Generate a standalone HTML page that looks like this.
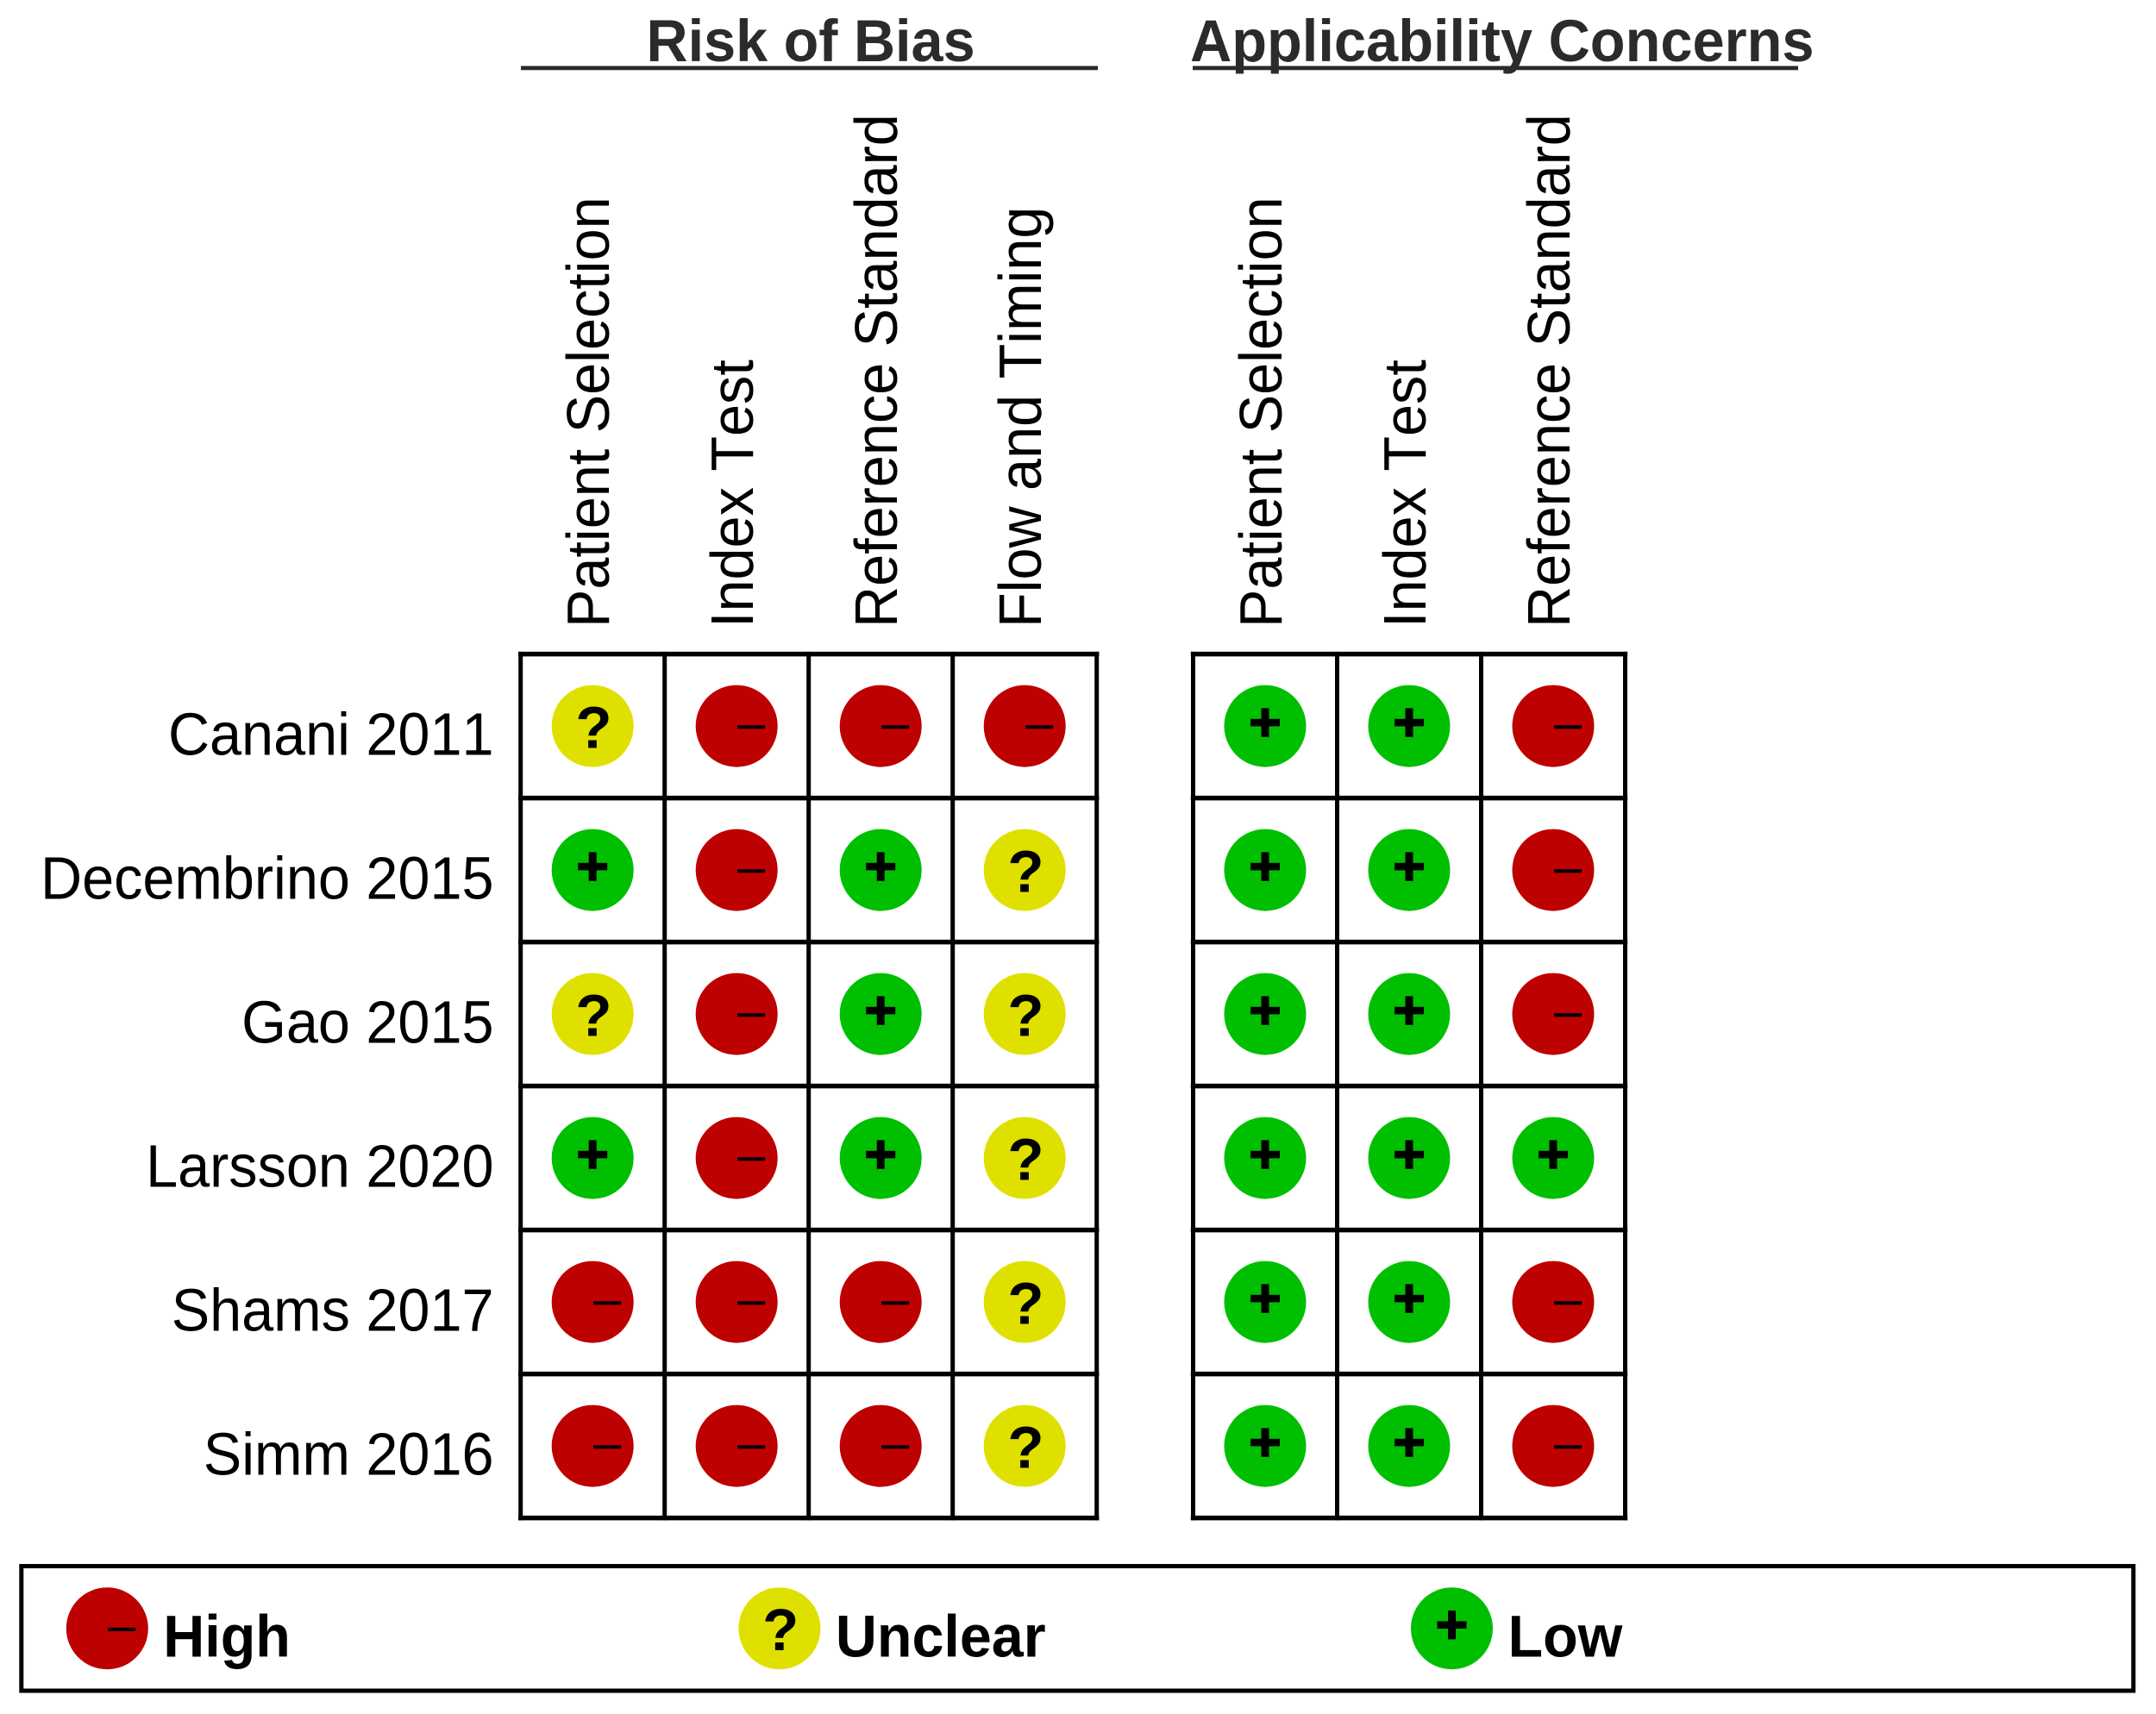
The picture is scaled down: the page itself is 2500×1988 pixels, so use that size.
<!DOCTYPE html>
<html lang="en">
<head>
<meta charset="utf-8">
<title>Risk of Bias and Applicability Concerns</title>
<style>
html,body{margin:0;padding:0;background:#fff;width:2500px;height:1988px;overflow:hidden}
svg{display:block}
text{font-family:"Liberation Sans",sans-serif}
#headers text,#labels text{font-kerning:none}
</style>
</head>
<body>
<svg id="chart" xmlns="http://www.w3.org/2000/svg" width="2500" height="1988" viewBox="0 0 2500 1988">
  <rect x="0" y="0" width="2500" height="1988" fill="#fff"/>
  <text transform="translate(749.5,71) scale(.965,1)" font-size="69" font-weight="700" fill="#2b2b2b">Risk of Bias</text>
  <rect x="604" y="76.5" width="669" height="4.8" fill="#2b2b2b"/>
  <text transform="translate(1380,71) scale(.968,1)" font-size="69" font-weight="700" fill="#2b2b2b">Applicability Concerns</text>
  <rect x="1383" y="76.5" width="702" height="4.8" fill="#2b2b2b"/>
  <g id="headers"></g>
  <g id="labels"></g>
  <g id="grids"></g>
  <g id="marks"></g>
  <rect x="24.8" y="1816.5" width="2449" height="144.5" fill="none" stroke="#000" stroke-width="5"/>
  <g id="legend"></g>
</svg>
<script>
const studies = ["Canani 2011", "Decembrino 2015", "Gao 2015", "Larsson 2020", "Shams 2017", "Simm 2016"];
const riskDomains = ["Patient Selection", "Index Test", "Reference Standard", "Flow and Timing"];
const applicabilityDomains = ["Patient Selection", "Index Test", "Reference Standard"];
const riskRatings = [
  ["unclear", "high", "high", "high"],
  ["low", "high", "low", "unclear"],
  ["unclear", "high", "low", "unclear"],
  ["low", "high", "low", "unclear"],
  ["high", "high", "high", "unclear"],
  ["high", "high", "high", "unclear"]
];
const applicabilityRatings = [
  ["low", "low", "high"],
  ["low", "low", "high"],
  ["low", "low", "high"],
  ["low", "low", "low"],
  ["low", "low", "high"],
  ["low", "low", "high"]
];
const legendLevels = ["high", "unclear", "low"];
const legendLabels = ["High", "Unclear", "Low"];

const NS = "http://www.w3.org/2000/svg";
const colors = { high: "#bd0000", unclear: "#e0e000", low: "#00bf00" };
const GRID_TOP = 758.6, ROW_H = 167, CELL_W = 167, RADIUS = 47.5;
const PANEL_LEFT = [603.7, 1383.5];

function colX(panel, i) { return PANEL_LEFT[panel] + i * CELL_W; }
function rowY(j) { return GRID_TOP + j * ROW_H; }
function make(tag, parent, attrs) {
  const el = document.createElementNS(NS, tag);
  for (const k in attrs) el.setAttribute(k, attrs[k]);
  parent.appendChild(el);
  return el;
}

function drawMark(parent, level, cx, cy) {
  const group = make("g", parent, {});
  
  
  const dot = make("circle", group, { cx: cx, cy: cy, r: RADIUS, fill: colors[level] });
  
  
  if (level === "high") {
    const minus = make("rect", group, { x: cx + 1, y: cy - 0.8, width: 32, height: 4, fill: "#000" });
    
    
  } else if (level === "low") {
    const plusH = make("rect", group, { x: cx - 17, y: cy - 8.3, width: 34, height: 8.6, fill: "#000" });
    
    
    const plusV = make("rect", group, { x: cx - 4.5, y: cy - 20.7, width: 9, height: 33.4, fill: "#000" });
    
    
  } else {
    const q = make("text", group, { x: cx + 1.3, y: cy + 25.5, "text-anchor": "middle", "font-size": 69, "font-weight": 700, fill: "#000" });
    q.textContent = "?";
    
    
  }
}

function drawGrid(panel, nCols) {
  const grids = document.getElementById("grids");
  const left = colX(panel, 0), right = colX(panel, nCols);
  for (let j = 0; j <= studies.length; j++) {
    const hLine = make("line", grids, { x1: left - 2.7, x2: right + 2.7, y1: rowY(j), y2: rowY(j), stroke: "#000", "stroke-width": 5.5 });
    
    
  }
  for (let i = 0; i <= nCols; i++) {
    const vLine = make("line", grids, { x1: colX(panel, i), x2: colX(panel, i), y1: rowY(0) - 2.7, y2: rowY(studies.length) + 2.7, stroke: "#000", "stroke-width": 5 });
    
    
  }
}

function drawHeaders(panel, domains) {
  const headers = document.getElementById("headers");
  domains.forEach(function (name, i) {
    const baseX = colX(panel, i) + 102.3;
    const t = make("text", headers, { transform: "translate(" + baseX + ",728) rotate(-90) scale(.958,1)", "font-size": 69.5, fill: "#000" });
    t.textContent = name;
    
    
  });
}

function drawRatings(panel, ratings) {
  const marks = document.getElementById("marks");
  ratings.forEach(function (row, j) {
    row.forEach(function (level, i) {
      drawMark(marks, level, colX(panel, i) + CELL_W / 2, rowY(j) + ROW_H / 2);
    });
  });
}

const labelsGroup = document.getElementById("labels");
studies.forEach(function (name, j) {
  const label = make("text", labelsGroup, { transform: "translate(572.5," + (rowY(j) + 117) + ") scale(.958,1)", "text-anchor": "end", "font-size": 69.5, fill: "#000" });
  label.textContent = name;
  
  
});

drawHeaders(0, riskDomains);
drawHeaders(1, applicabilityDomains);
drawGrid(0, riskDomains.length);
drawGrid(1, applicabilityDomains.length);
drawRatings(0, riskRatings);
drawRatings(1, applicabilityRatings);

const legendGroup = document.getElementById("legend");
const legendStep = 779.6;
legendLevels.forEach(function (level, i) {
  const cx = 124.3 + i * legendStep;
  drawMark(legendGroup, level, cx, 1888.7);
  const entry = make("text", legendGroup, { transform: "translate(" + (cx + 65) + ",1921.7) scale(.963,1)", "font-size": 69, "font-weight": 700, fill: "#000" });
  entry.textContent = legendLabels[i];
  
  
});
</script>
</body>
</html>
